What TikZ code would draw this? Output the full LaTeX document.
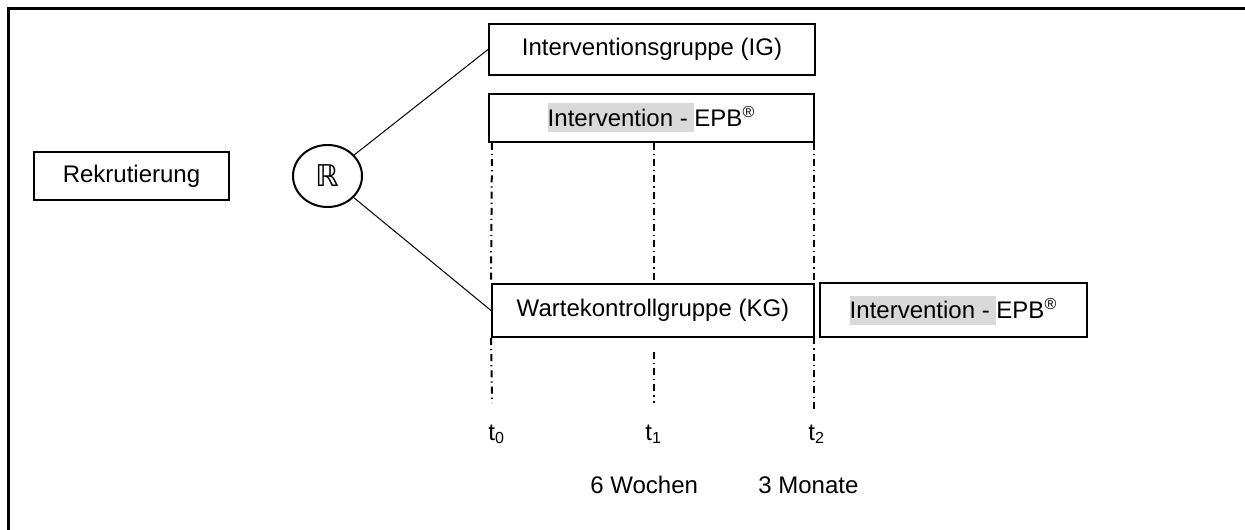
\documentclass[tikz,border=0pt]{standalone}
\usepackage{fontspec}
\setmainfont{Liberation Sans}
\newfontfamily\symfont{DejaVu Sans}
\usetikzlibrary{shapes.geometric}
\definecolor{hlgray}{gray}{0.85}
\newcommand{\hlbox}[1]{{\setlength{\fboxsep}{0pt}\colorbox{hlgray}{\rule[-3.2pt]{0pt}{14.5pt}#1}}}
\newcommand{\epbtext}{\hlbox{Intervention - }EPB\textsuperscript{®}}

\begin{document}
\begin{tikzpicture}[x=0.5pt,y=-0.5pt,
	every node/.style={font=\fontsize{12}{14.4}\selectfont},
	box/.style={draw,line width=1pt,inner sep=0pt},
	timeline/.style={line width=1pt,dash pattern=on 3.5pt off 2pt on 0.6pt off 2pt}]
	\useasboundingbox (0,0) rectangle (1245,529);
	\clip (0,0) rectangle (1245,529);
	\draw [line width=1.5pt] (8,600) -- (8,9) -- (1300,9);
	\node [box,minimum width=97.5pt,minimum height=24pt] (rekr) at (131.5,176) {Rekrutierung};
	\node [box,ellipse,minimum width=34.5pt,minimum height=31pt] (R) at (327.5,176) {\symfont\fontsize{15}{16}\selectfont ℝ};
	\node [box,minimum width=163pt,minimum height=25.5pt] (IG) at (652,49.5) {Interventionsgruppe (IG)};
	\node [box,minimum width=162.5pt,minimum height=24pt] (epbIG) at (651.5,118) {\epbtext};
	\node [box,minimum width=161pt,minimum height=26.5pt] (KG) at (653,310.5) {Wartekontrollgruppe (KG)};
	\node [box,minimum width=133.5pt,minimum height=27pt] (epbKG) at (953.5,310) {\epbtext};
	\draw [line width=0.5pt] (R) -- (IG.west);
	\draw [line width=0.5pt] (R) -- (KG.west);
	\coordinate (t0a) at (492,143);
	\coordinate (t0b) at (492,403);
	\coordinate (t1a) at (654,143);
	\coordinate (t1b) at (654,280);
	\coordinate (t1c) at (654,352);
	\coordinate (t1d) at (654,403);
	\coordinate (t2a) at (814,143);
	\coordinate (t2b) at (814,413);
	\draw [timeline] (t0a) -- (KG.north west);
	\draw [timeline] (KG.south west) -- (t0b);
	\draw [timeline] (t1a) -- (t1b);
	\draw [timeline] (t1c) -- (t1d);
	\draw [timeline] (t2a) -- (t2b);
	\path (488,440) node [anchor=base west,inner sep=0pt] (t0) {t\textsubscript{0}};
	\path (645,440) node [anchor=base west,inner sep=0pt] (t1) {t\textsubscript{1}};
	\path (808,440) node [anchor=base west,inner sep=0pt] (t2) {t\textsubscript{2}};
	\path (590,493) node [anchor=base west,inner sep=0pt] (wochen) {6 Wochen};
	\path (758,493) node [anchor=base west,inner sep=0pt] (monate) {3 Monate};
\end{tikzpicture}
\end{document}
